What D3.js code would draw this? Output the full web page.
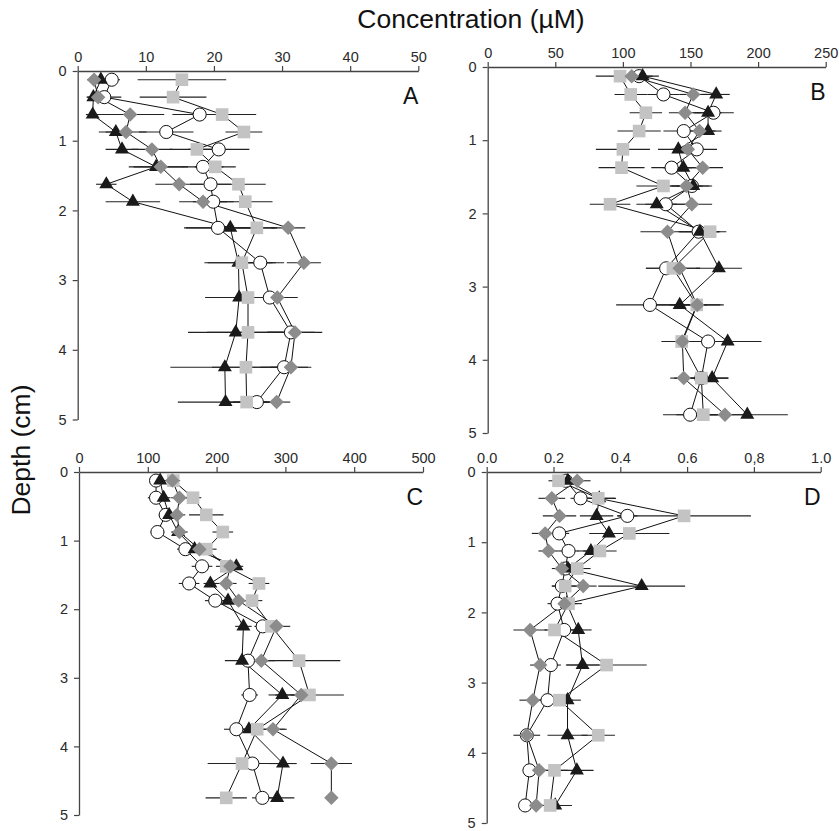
<!DOCTYPE html>
<html>
<head>
<meta charset="utf-8">
<script src="https://cdn.jsdelivr.net/npm/d3@7"></script>
<style>
  body { margin: 0; background: #fff; }
  text { font-family: "Liberation Sans", Arial, sans-serif; }
</style>
</head>
<body>
<script>
// depth of each slice (cm)
var depths = [0.125, 0.375, 0.625, 0.875, 1.125, 1.375, 1.625, 1.875, 2.25, 2.75, 3.25, 3.75, 4.25, 4.75];
var depthTicks = [0, 1, 2, 3, 4, 5];

// panel A
var aCircle   = [5.0, 3.9, 17.9, 13.0, 20.7, 18.4, 19.5, 19.9, 20.6, 26.8, 28.2, 31.3, 30.3, 26.3];
var aTriangle = [3.4, 2.3, 2.2, 5.6, 6.5, 11.5, 4.2, 8.1, 22.4, 23.6, 23.7, 23.2, 21.6, 21.7];
var aDiamond  = [2.4, 3.0, 7.7, 7.1, 10.9, 12.2, 14.9, 18.4, 30.9, 33.2, 29.3, 31.9, 31.3, 29.2];
var aSquare   = [15.3, 14.0, 21.2, 24.4, 17.5, 20.2, 23.6, 24.6, 26.3, 24.1, 25.0, 25.0, 24.7, 24.8];
var aCircleErr   = [1.2, 2.5, 4, 4, 4.5, 3, 3, 3, 5, 3.5, 3, 3.5, 3.5, 3.5];
var aTriangleErr = [1, 1, 1, 2.5, 2.4, 4, 1.5, 4, 6.5, 5, 5, 7, 8, 7];
var aDiamondErr  = [1, 1, 5, 3, 3, 4, 3.5, 3.5, 2.5, 2.5, 3, 4, 3, 2];
var aSquareErr   = [6.5, 4.9, 5, 2.7, 4, 3, 4, 4, 3, 5, 4.5, 6, 5, 3];

// panel B
var bCircle   = [112, 130, 167, 145, 154.6, 136, 151, 131.7, 156, 132, 120, 163, 158, 149.7];
var bTriangle = [114.6, 169, 163, 163, 141, 144.7, 152, 125, 157, 171, 142, 177.5, 166, 192];
var bDiamond  = [106.5, 152, 146, 156.6, 148, 159, 147, 151, 133, 142, 155, 144, 145, 175.5];
var bSquare   = [97.9, 105.8, 117, 112, 100, 99, 130, 90.5, 164.5, 137, 154.6, 143.5, 158, 159.5];
var bCircleErr   = [10, 12, 15, 15, 15, 15, 15, 15, 15, 15, 25, 20, 20, 20];
var bTriangleErr = [12, 10, 10, 10, 15, 15, 12, 15, 15, 17, 20, 25, 12, 30];
var bDiamondErr  = [8, 10, 12, 12, 12, 15, 12, 15, 20, 15, 17, 12, 10, 15];
var bSquareErr   = [18, 12, 12, 16, 20, 17, 20, 15, 12, 20, 20, 15, 10, 20];

// panel C
var cCircle   = [112, 112, 126, 114, 154.6, 178.8, 160, 198, 267, 245.6, 248, 228.7, 252, 266.5];
var cTriangle = [118, 123, 131, 144, 168, 228.7, 191, 216.6, 239, 237, 295.5, 247, 296.5, 288];
var cDiamond  = [135.7, 146, 142.4, 146, 175, 220, 214, 232, 287, 265, 323, 282, 366.8, 366.8];
var cSquare   = [137, 165.7, 185, 209, 185, 214, 261.6, 251.5, 279.6, 319.8, 335, 259, 237, 214];
var cCircleErr   = [8, 12, 10, 10, 12, 15, 15, 15, 12, 12, 12, 18, 25, 15];
var cTriangleErr = [10, 10, 10, 8, 15, 10, 10, 12, 12, 25, 20, 15, 20, 25];
var cDiamondErr  = [10, 12, 12, 12, 10, 15, 15, 15, 20, 20, 15, 20, 30, 0];
var cSquareErr   = [10, 12, 25, 15, 15, 15, 15, 15, 15, 60, 50, 40, 50, 30];

// panel D
var dCircle   = [0.237, 0.281, 0.421, 0.217, 0.245, 0.235, 0.225, 0.212, 0.232, 0.192, 0.182, 0.12, 0.128, 0.115];
var dTriangle = [0.243, 0.337, 0.329, 0.366, 0.312, 0.243, 0.464, 0.24, 0.274, 0.287, 0.242, 0.242, 0.27, 0.205];
var dDiamond  = [0.271, 0.195, 0.218, 0.175, 0.185, 0.225, 0.289, 0.233, 0.13, 0.16, 0.138, 0.12, 0.157, 0.148];
var dSquare   = [0.215, 0.334, 0.591, 0.427, 0.339, 0.271, 0.235, 0.245, 0.203, 0.359, 0.218, 0.334, 0.203, 0.19];
var dCircleErr   = [0.02, 0.03, 0.03, 0.03, 0.03, 0.03, 0.03, 0.03, 0.03, 0.03, 0.03, 0.02, 0.02, 0.02];
var dTriangleErr = [0.03, 0.05, 0.05, 0.05, 0.04, 0.04, 0.13, 0.03, 0.04, 0.05, 0.04, 0.06, 0.05, 0.05];
var dDiamondErr  = [0.04, 0.04, 0.05, 0.04, 0.03, 0.03, 0.04, 0.03, 0.05, 0.03, 0.04, 0.04, 0.04, 0.03];
var dSquareErr   = [0.03, 0.05, 0.2, 0.12, 0.05, 0.04, 0.04, 0.04, 0.03, 0.12, 0.04, 0.05, 0.04, 0.03];

// tick labels along the top of each panel
var aTicks = [0, 10, 20, 30, 40, 50];
var bTicks = [0, 50, 100, 150, 200, 250];
var cTicks = [0, 100, 200, 300, 400, 500];
var dTicks = [0, 0.2, 0.4, 0.6, 0.8, 1.0];
var dTickLabels = ["0.0", "0.2", "0.4", "0.6", "0,8", "1.0"];

var width = 839, height = 831;

var svg = d3.select("body").append("svg")
  .attr("width", width)
  .attr("height", height);

svg.append("rect").attr("width", width).attr("height", height).attr("fill", "#fff");

// panel layout in pixels
var panels = [
  { letter: "A", left: 77.7, right: 418.3, top: 71, bottom: 419.5, max: 50, ticks: aTicks, labels: null,
    series: [[aCircle, aCircleErr], [aTriangle, aTriangleErr], [aSquare, aSquareErr], [aDiamond, aDiamondErr]] },
  { letter: "B", left: 487.7, right: 825.7, top: 67, bottom: 433, max: 250, ticks: bTicks, labels: null,
    series: [[bCircle, bCircleErr], [bTriangle, bTriangleErr], [bSquare, bSquareErr], [bDiamond, bDiamondErr]] },
  { letter: "C", left: 79, right: 423, top: 472, bottom: 815, max: 500, ticks: cTicks, labels: null,
    series: [[cCircle, cCircleErr], [cTriangle, cTriangleErr], [cSquare, cSquareErr], [cDiamond, cDiamondErr]] },
  { letter: "D", left: 486.7, right: 820.7, top: 472, bottom: 823, max: 1.0, ticks: dTicks, labels: dTickLabels,
    series: [[dCircle, dCircleErr], [dTriangle, dTriangleErr], [dSquare, dSquareErr], [dDiamond, dDiamondErr]] }
];

// marker styles, same order as panel.series
var styles = [
  { type: d3.symbolCircle,   size: 135, fill: "#fff",    stroke: "#111", rot: 0 },
  { type: d3.symbolTriangle, size: 85,  fill: "#1a1a1a", stroke: "none", rot: 0 },
  { type: d3.symbolSquare,   size: 160, fill: "#c3c3c3", stroke: "none", rot: 0 },
  { type: d3.symbolSquare,   size: 105, fill: "#8c8c8c", stroke: "none", rot: 45 }
];

panels.forEach(function(p) {
  var x = d3.scaleLinear().domain([0, p.max]).range([p.left, p.right]);
  var y = d3.scaleLinear().domain([0, 5]).range([p.top, p.bottom]);

  var g = svg.append("g");

  // top axis
  var xAxis = d3.axisTop(x).tickValues(p.ticks).tickSize(5).tickSizeOuter(0).tickPadding(4);
  if (p.labels) xAxis.tickFormat(function(d, i) { return p.labels[i]; });
  var gx = g.append("g")
    .attr("transform", "translate(0," + p.top + ")")
    .call(xAxis);

  // left axis
  var gy = g.append("g")
    .attr("transform", "translate(" + p.left + ",0)")
    .call(d3.axisLeft(y).tickValues(depthTicks).tickFormat(d3.format("d")).tickSize(5).tickSizeOuter(0).tickPadding(6));

  [gx, gy].forEach(function(a) {
    a.select(".domain").attr("stroke", "#444").attr("stroke-width", 1.3);
    a.selectAll(".tick line").attr("stroke", "#444").attr("stroke-width", 1.2);
    a.selectAll(".tick text").attr("fill", "#2a2a2a").style("font-size", "14.5px")
      .style("font-family", "'Liberation Sans', Arial, sans-serif");
  });

  // error bars
  p.series.forEach(function(s) {
    var pts = depths.map(function(d, i) { return { depth: d, v: s[0][i], e: s[1][i] }; });
    g.append("g").selectAll("line")
      .data(pts.filter(function(d) { return d.e > 0; }))
      .enter().append("line")
      .attr("x1", function(d) { return x(Math.max(0, d.v - d.e)); })
      .attr("x2", function(d) { return x(d.v + d.e); })
      .attr("y1", function(d) { return y(d.depth); })
      .attr("y2", function(d) { return y(d.depth); })
      .attr("stroke", "#222")
      .attr("stroke-width", 1.1);
  });

  // profile lines
  var line = d3.line()
    .x(function(d) { return x(d.v); })
    .y(function(d) { return y(d.depth); });

  p.series.forEach(function(s) {
    var pts = depths.map(function(d, i) { return { depth: d, v: s[0][i] }; });
    g.append("path")
      .attr("d", line(pts))
      .attr("fill", "none")
      .attr("stroke", "#111")
      .attr("stroke-width", 1);
  });

  // markers
  p.series.forEach(function(s, si) {
    var st = styles[si];
    var sym = d3.symbol().type(st.type).size(st.size);
    var pts = depths.map(function(d, i) { return { depth: d, v: s[0][i] }; });
    g.append("g").selectAll("path")
      .data(pts)
      .enter().append("path")
      .attr("d", sym)
      .attr("transform", function(d) {
        return "translate(" + x(d.v) + "," + y(d.depth) + ") rotate(" + st.rot + ")";
      })
      .attr("fill", st.fill)
      .attr("stroke", st.stroke)
      .attr("stroke-width", 1);
  });

  // panel letter
  g.append("text")
    .attr("x", p.right)
    .attr("y", p.top + 33)
    .attr("text-anchor", "end")
    .style("font-size", "23px")
    .attr("fill", "#111")
    .text(p.letter);
});

// shared titles
svg.append("text")
  .attr("x", 471)
  .attr("y", 28)
  .attr("text-anchor", "middle")
  .style("font-size", "26.5px")
  .attr("fill", "#111")
  .text("Concentration (\u00b5M)");

svg.append("text")
  .attr("transform", "translate(30,450) rotate(-90)")
  .attr("text-anchor", "middle")
  .style("font-size", "26.5px")
  .attr("fill", "#111")
  .text("Depth (cm)");
</script>
</body>
</html>
